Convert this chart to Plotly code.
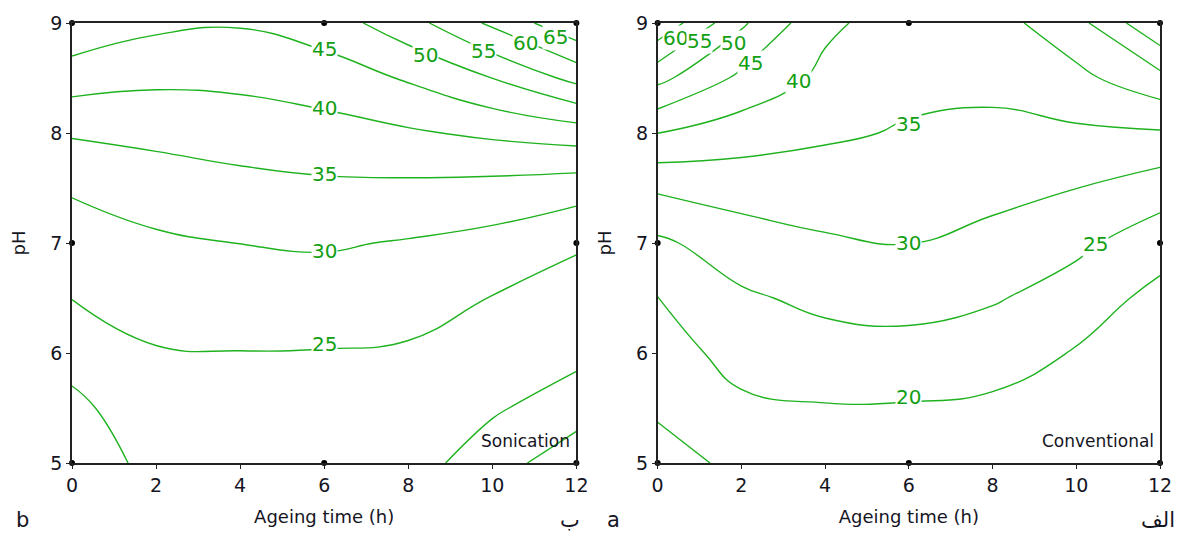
import plotly.graph_objects as go
from plotly.subplots import make_subplots

# Grid of the fitted response (ageing time in h, pH)
ageing_time = [0, 2, 4, 6, 8, 10, 12]
ph_levels = [5.0, 5.5, 6.0, 6.5, 7.0, 7.5, 8.0, 8.5, 9.0]

# Sonication route: rows follow ph_levels, columns follow ageing_time
sonication_z = [
    [17.0, 21.5, 22.0, 22.0, 22.0, 17.5, 11.5],
    [18.8, 23.1, 23.4, 23.4, 23.25, 20.6, 17.6],
    [21.8, 24.7, 24.9, 24.8, 24.5, 22.65, 21.2],
    [25.1, 26.9, 27.4, 27.5, 26.7, 24.87, 23.2],
    [27.7, 29.2, 30.05, 30.5, 29.65, 28.4, 25.5],
    [30.5, 32.4, 33.5, 34.1, 34.0, 33.4, 32.2],
    [35.5, 36.3, 37.2, 38.1, 39.4, 40.9, 42.4],
    [42.35, 41.0, 41.2, 42.6, 45.5, 50.05, 56.5],
    [49.0, 46.1, 45.4, 47.4, 53.0, 61.0, 69.0],
]

# Conventional route
conventional_z = [
    [13.0, 16.2, 17.5, 17.5, 17.5, 17.0, 16.0],
    [15.7, 19.1, 19.7, 19.6, 19.2, 18.4, 16.8],
    [17.8, 21.75, 22.9, 23.2, 21.9, 19.7, 17.7],
    [19.9, 24.25, 26.2, 26.8, 25.5, 22.7, 18.5],
    [24.1, 27.7, 29.4, 30.05, 28.6, 26.1, 22.2],
    [30.7, 32.0, 32.5, 32.3, 31.4, 30.05, 27.3],
    [40.05, 37.4, 35.7, 34.6, 34.0, 34.2, 34.5],
    [51.4, 43.9, 38.8, 36.1, 36.15, 38.7, 43.5],
    [64.0, 50.8, 41.0, 37.5, 38.0, 43.3, 54.5],
]

# Contour levels drawn (every 5 units)
level_start, level_end, level_step = 15, 70, 5

# Labelled levels for each route
sonication_labels = [45, 40, 35, 30, 25, 50, 55, 60, 65]
conventional_labels = [60, 55, 50, 45, 40, 35, 30, 25, 20]

# Face-centred design points
design_time = [0, 0, 0, 6, 6, 6, 12, 12, 12]
design_ph = [5, 7, 9, 5, 7, 9, 5, 7, 9]

x_ticks = [0, 2, 4, 6, 8, 10, 12]
y_ticks = [5, 6, 7, 8, 9]

LINE_GREEN = "#1fb21f"
LABEL_GREEN = "#12a012"
FONT = "DejaVu Sans"
TEXT = "#15151f"

# Where each level's value is written along its line (time, pH)
sonication_label_at = [(6.0, 8.76), (6.0, 8.23), (6.0, 7.63), (6.0, 6.93), (6.0, 6.08),
                       (8.4, 8.71), (9.8, 8.75), (10.8, 8.82), (11.5, 8.87)]
conventional_label_at = [(0.42, 8.86), (1.0, 8.84), (1.8, 8.82), (2.21, 8.64), (3.36, 8.47),
                         (6.0, 8.08), (6.0, 7.0), (10.47, 6.99), (6.0, 5.6)]

fig = make_subplots(rows=1, cols=2, horizontal_spacing=0.075)

panels = [
    (1, sonication_z, sonication_labels, sonication_label_at),
    (2, conventional_z, conventional_labels, conventional_label_at),
]

for col, z, labels, label_at in panels:
    fig.add_trace(
        go.Contour(
            x=ageing_time, y=ph_levels, z=z,
            colorscale=[[0, LINE_GREEN], [1, LINE_GREEN]],
            showscale=False,
            contours=dict(coloring="lines", start=level_start, end=level_end,
                          size=level_step, showlabels=False),
            line=dict(width=1.4, smoothing=1.3),
            hoverinfo="skip",
        ),
        row=1, col=col,
    )
    fig.add_trace(
        go.Scatter(
            x=design_time, y=design_ph, mode="markers",
            marker=dict(color="black", size=6),
            cliponaxis=False, hoverinfo="skip",
        ),
        row=1, col=col,
    )
    xref = "x" if col == 1 else "x2"
    yref = "y" if col == 1 else "y2"
    for level, (lx, ly) in zip(labels, label_at):
        fig.add_annotation(
            text=str(level), xref=xref, yref=yref, x=lx, y=ly,
            showarrow=False, bgcolor="white", borderpad=0,
            font=dict(family=FONT, size=20, color=LABEL_GREEN),
        )

axis_common = dict(
    showgrid=False, zeroline=False, showline=True, linecolor="#222222",
    linewidth=1.5, mirror=True, ticks="outside", ticklen=4, tickcolor="#222222",
    tickfont=dict(family=FONT, size=19, color=TEXT),
)

for i in (1, 2):
    fig.update_xaxes(
        range=[0, 12], tickvals=x_ticks,
        title=dict(text="Ageing time (h)", font=dict(family=FONT, size=18, color=TEXT), standoff=16),
        row=1, col=i, **axis_common,
    )
    fig.update_yaxes(
        range=[5, 9], tickvals=y_ticks,
        title=dict(text="pH", font=dict(family=FONT, size=18, color=TEXT), standoff=20),
        row=1, col=i, **axis_common,
    )

fig.update_layout(
    width=1184, height=536,
    margin=dict(l=72, r=14, t=20, b=72),
    paper_bgcolor="white", plot_bgcolor="white",
    showlegend=False,
    xaxis=dict(domain=[0, 0.4636]),
    xaxis2=dict(domain=[0.5383, 1.0]),
)

for txt, xref, yref in (("Sonication", "x", "y"), ("Conventional", "x2", "y2")):
    fig.add_annotation(
        text=txt, xref=xref, yref=yref, x=11.9, y=5.2,
        xanchor="right", yanchor="middle", showarrow=False,
        font=dict(family=FONT, size=17, color=TEXT),
    )

panel_marks = [
    ("b", -0.053, "left"),
    ("\u0628", 0.458, "center"),
    ("a", 0.49, "left"),
    ("\u0627\u0644\u0641", 0.998, "center"),
]
for txt, px, anchor in panel_marks:
    fig.add_annotation(
        text=txt, xref="paper", yref="paper", x=px, y=-0.13,
        xanchor=anchor, yanchor="middle", showarrow=False,
        font=dict(family=FONT, size=21, color=TEXT),
    )

fig.write_html("out.html")
